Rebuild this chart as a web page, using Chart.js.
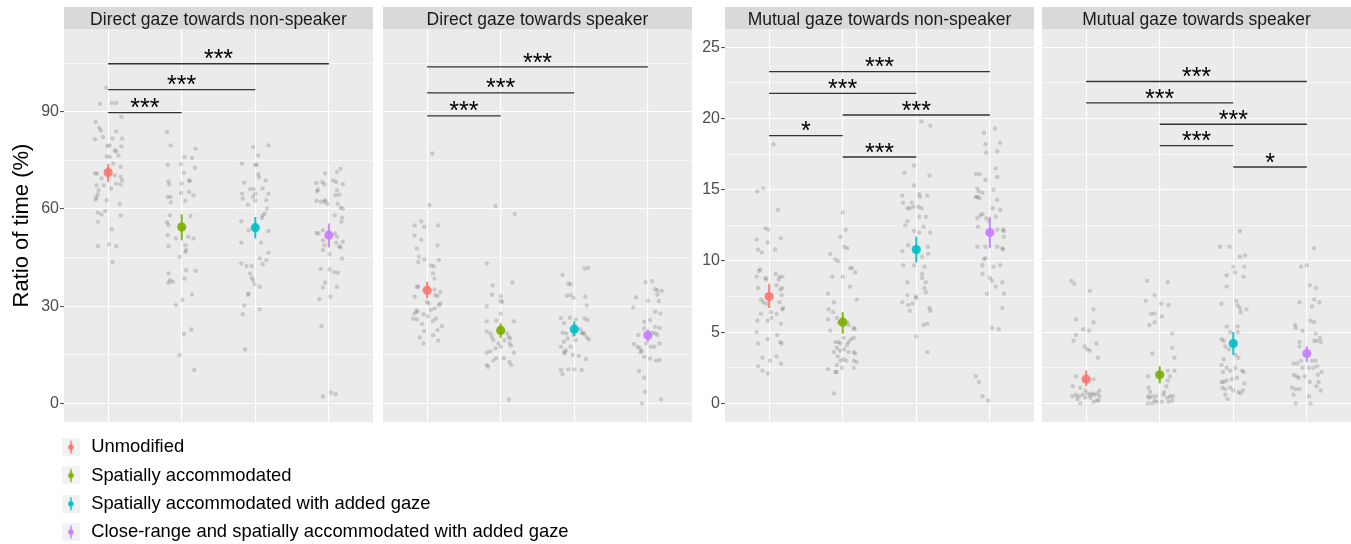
<!DOCTYPE html>
<html>
<head>
<meta charset="utf-8">
<script src="https://cdn.jsdelivr.net/npm/chart.js@4.4.0/dist/chart.umd.min.js"></script>
<style>
  html, body { margin: 0; padding: 0; background: #fff; overflow: hidden; width: 1351px; height: 544px; }
  canvas { position: absolute; top: 0; }
</style>
</head>
<body>
<canvas id="p1" width="373" height="422" style="left:0px"></canvas>
<canvas id="p2" width="309" height="422" style="left:383px"></canvas>
<canvas id="p3" width="373" height="422" style="left:661px"></canvas>
<canvas id="p4" width="309" height="422" style="left:1042px"></canvas>
<canvas id="legend" width="1200" height="140" style="left:50px;top:428px"></canvas>
<script>
// conditions, one colour each (ggplot default hues)
const conditions = ["Unmodified", "Spatially accommodated", "Spatially accommodated with added gaze",
  "Close-range and spatially accommodated with added gaze"];
const colors = ["rgba(248,118,109,0.9)", "rgba(124,174,0,0.9)", "rgba(0,191,196,0.9)", "rgba(199,124,255,0.9)"];
const categories = [1, 2, 3, 4];

// y ticks
const leftMajor = [0, 30, 60, 90];
const leftMinor = [15, 45, 75, 105];
const rightMajor = [0, 5, 10, 15, 20, 25];
const rightMinor = [2.5, 7.5, 12.5, 17.5, 22.5];

// participant points: [jitter, value]
const dirNonSpk1 = [[-0.03,97.4],[-0.11,92.4],[0.05,92.7],[0.11,92.7],[0.18,88.4],[-0.17,86.8],[-0.12,85],[-0.10,84.2],[-0.07,82.2],[-0.18,81.5],[0.11,83.9],[0.06,81.7],[0.19,81.7],[-0.01,79.4],[0.02,79.6],[0.18,79.3],[0.09,78],[0.11,77.8],[0.14,76.5],[-0.02,76.2],[0.02,76],[0.07,74],[0.17,73],[-0.18,70.9],[-0.15,70.9],[-0.09,69.4],[0.09,70.4],[0.17,69.9],[0.19,68.8],[-0.16,67.3],[0.11,67.8],[0.17,67.5],[0.04,66.3],[-0.13,65.8],[-0.14,64.5],[-0.06,67.3],[-0.17,62.9],[-0.16,63.5],[-0.02,62.7],[0.16,61.6],[-0.04,59.4],[-0.14,58.9],[-0.09,58.3],[0.17,58],[-0.14,56],[0.05,53.7],[-0.14,48.5],[0.01,49],[0.11,48.5],[0.06,43.6]];
const dirNonSpk2 = [[-0.20,83.8],[-0.15,79.6],[0.19,78.6],[0.04,76],[0.14,75.7],[-0.01,73.8],[-0.19,73.6],[0.18,72.7],[0.03,71.2],[-0.18,68.5],[-0.17,67.5],[0.10,68.8],[0.11,68.6],[0,67.8],[-0.19,63.7],[-0.15,63.7],[-0.01,64.9],[0.10,65.2],[0.16,64.2],[0.05,62.5],[-0.15,62],[-0.20,55.9],[-0.18,55],[-0.16,58],[0.12,57.8],[-0.19,51.9],[-0.08,50.9],[0.09,51.4],[0.16,50.9],[0.05,48.8],[-0.18,48.5],[0.06,47.3],[0.05,46.7],[-0.03,45.2],[0.06,41.1],[0.19,40.9],[-0.18,40.1],[-0.16,38],[-0.12,37.5],[-0.18,37.2],[0.04,38.5],[0.14,33.6],[0.01,31.9],[-0.08,30.3],[0.13,22.8],[0.03,21.4],[-0.03,14.9],[0.17,10.3]];
const dirNonSpk3 = [[-0.03,79.1],[0.18,79.6],[0.04,76.5],[-0.18,74],[0.02,73.7],[0,73.5],[0.04,70.7],[0.05,69.7],[-0.15,68.1],[0.14,68.8],[-0.07,66.1],[-0.02,66.1],[0,64.7],[-0.03,63.7],[-0.18,64.7],[-0.17,63.2],[0.18,64.7],[0.10,66.3],[0,62.5],[0.15,62.7],[0.16,60.1],[-0.10,61.3],[0.10,58],[0.13,58.6],[0.09,57.2],[-0.19,56.2],[-0.09,53.4],[0.18,53.2],[0.08,49.6],[-0.19,49.6],[0.18,46.5],[0.06,44.7],[0.15,44.2],[0.10,42.9],[-0.19,43.2],[-0.12,42.4],[-0.05,42.4],[-0.07,40.1],[-0.05,38.8],[-0.03,38],[-0.01,36.8],[0.06,36],[-0.09,33.9],[-0.10,33.5],[-0.15,30.2],[0.06,29],[-0.17,27.5],[-0.14,16.6]];
const dirNonSpk4 = [[0.16,72.4],[0.11,71.4],[-0.05,70.9],[0.06,68.8],[0.10,68.3],[-0.17,68],[-0.09,68.3],[-0.06,67.6],[0.19,67.6],[-0.15,66],[-0.16,65.4],[0.11,65.8],[0.14,64.4],[0.09,64.2],[-0.17,62.5],[-0.11,62.2],[-0.06,62.2],[-0.02,61.6],[-0.05,62.7],[0.12,61.6],[0.16,60.3],[0.19,60.1],[0.08,58],[0.18,57.3],[0.17,56],[-0.17,52.6],[-0.14,52.4],[-0.08,53.4],[0.08,52.4],[0.11,51.4],[-0.08,50.3],[0.10,49.6],[0.19,49.9],[0.14,48.5],[0.16,48.1],[-0.06,48.8],[-0.08,47.3],[0.01,46],[0.18,44.7],[-0.11,41.5],[0.01,41.3],[0.07,40.5],[0.12,40.3],[-0.05,37.3],[-0.08,35.8],[0.11,36],[0.02,32.9],[-0.13,32.1],[-0.10,23.8],[-0.08,2.1],[0.03,3.3],[0.09,2.8]];

const dirSpk1 = [[0.07,77.1],[0.03,61.2],[-0.17,54.9],[-0.08,56.2],[-0.04,54.5],[0.15,54.9],[-0.17,51.8],[-0.08,50.5],[0.14,48.7],[-0.14,47.8],[-0.11,45.2],[-0.04,44.4],[-0.12,43.6],[0.16,44.2],[0.05,42.5],[0.09,42.3],[0.08,40.1],[0.10,38.5],[-0.14,36],[-0.12,36],[0.18,34.3],[0.14,33.1],[0.10,35.1],[0.11,33.4],[-0.17,32.9],[0,31.3],[0.02,30.8],[0.18,30.8],[0.16,30.3],[-0.15,28.6],[-0.13,28.3],[-0.17,27.7],[0.05,28.8],[0.10,29.3],[-0.05,27.5],[0.01,26.9],[-0.19,26.2],[-0.14,25.9],[0.12,26.2],[0.08,25.4],[-0.07,24.5],[0.20,23.8],[-0.04,22.3],[0.14,22.6],[-0.10,20.3],[0.08,21],[-0.05,18.5],[0.15,19.3]];
const dirSpk2 = [[-0.07,60.8],[0.19,58.4],[-0.19,43.2],[0.16,37.3],[-0.11,36.4],[-0.12,33.5],[0,33.1],[0,31.6],[0.02,31.3],[-0.19,30],[0,27.7],[-0.19,25.3],[-0.06,25.5],[0.18,25.3],[-0.19,22.2],[-0.14,21.6],[0.09,21.6],[0.11,20.5],[-0.12,20.5],[-0.10,19.5],[-0.03,18.5],[0.05,19.5],[0.12,18.5],[0.13,20],[0.14,17.8],[-0.07,17],[0,17.5],[-0.14,16],[-0.19,15.6],[0.18,15.6],[-0.06,13.9],[-0.10,13.2],[0.04,13.9],[-0.19,11.8],[-0.17,11.3],[0.12,12.8],[0.14,11.8],[0.11,1.2]];
const dirSpk3 = [[0.14,41.6],[0.19,41.8],[-0.16,39.6],[-0.08,37],[-0.05,36.7],[-0.10,33.2],[-0.05,33.4],[0.15,32.9],[-0.01,32.6],[0.17,30.2],[-0.18,26.3],[-0.14,24.7],[0.02,25.9],[0.14,26.2],[0.18,25.7],[-0.06,26.4],[-0.16,21.8],[-0.11,21.6],[0.08,22.9],[0.10,21.6],[0.14,21.3],[0.12,21.9],[0.17,20.3],[0.20,19.7],[-0.01,21],[0.02,19.5],[-0.14,19],[-0.09,20],[-0.18,17.5],[-0.05,17.5],[-0.11,16.4],[-0.14,15.9],[-0.13,15.4],[-0.02,14.9],[0.06,14.7],[0.16,13.7],[-0.18,10.3],[-0.16,9],[-0.08,10.5],[0,10.5],[0.10,10.3]];
const dirSpk4 = [[-0.03,37.4],[0.06,37.7],[0.10,35.3],[0.13,34.9],[0.19,34.7],[0.13,33.6],[-0.16,32.7],[0,31.7],[0.15,31.6],[-0.20,29.6],[0.10,28.3],[0.17,27.7],[0.03,25.7],[-0.05,25.2],[0.10,23.6],[0.16,23.3],[0.06,21.8],[0.10,21.6],[0.13,21.1],[-0.05,23.1],[-0.13,21.1],[-0.19,18.3],[-0.14,17.5],[-0.11,17],[-0.08,16.2],[-0.10,15.8],[-0.02,18.5],[0.09,17.5],[0.16,18.5],[0.04,17.5],[-0.05,14.4],[0.03,13.8],[0.11,13.2],[0.16,13.4],[-0.12,10],[-0.05,7.9],[-0.04,3.6],[-0.08,0],[0.18,1.3]];

const mutNonSpk1 = [[0.06,18.2],[-0.16,14.9],[-0.08,15.1],[0.12,13.6],[-0.05,12.3],[-0.01,12.2],[-0.17,11.5],[0.16,11.6],[-0.02,11.3],[-0.15,10.8],[-0.10,10.6],[0.08,10.8],[-0.12,9.4],[-0.14,9.3],[-0.17,8.9],[-0.05,8.8],[-0.04,8.7],[0.09,9.1],[0.14,8.9],[0.18,8.9],[0.13,8.7],[0.10,8.3],[-0.15,8.1],[0.18,8.1],[0.15,8],[-0.11,7.3],[-0.08,7.1],[-0.04,7],[0.17,7.6],[0.14,7.1],[0.19,6.7],[0.18,6.6],[-0.11,6.3],[0.02,6.4],[0.10,6.3],[0.03,6],[-0.16,5.8],[-0.02,5.8],[0.16,5.6],[-0.17,5],[0.11,4.8],[-0.02,4.5],[0.15,4.3],[0.17,4.2],[-0.15,4.2],[-0.09,3.2],[0.10,3.3],[0.01,3],[0.16,2.8],[-0.15,2.6],[-0.09,2.3],[-0.02,2.1]];
const mutNonSpk2 = [[0,13.4],[0.04,12.2],[-0.03,11.7],[0.02,11],[0.06,10.9],[-0.17,10.5],[-0.10,10.1],[-0.06,10],[0.10,9.5],[0.13,9.5],[0.17,9.2],[-0.14,8.9],[0,8.9],[0.10,8.2],[-0.20,7.7],[-0.12,7.1],[0.19,7.3],[-0.19,6.6],[-0.13,6.4],[-0.08,6],[-0.05,5.7],[-0.20,5.9],[0.06,5.7],[0.08,5.5],[-0.17,5.1],[0.15,5.3],[0.16,5.2],[0.01,4.6],[0.11,4.5],[0.15,4.6],[-0.10,4.3],[-0.06,4.3],[-0.03,4.2],[0.08,4.3],[0.06,4.1],[-0.08,3.9],[-0.12,3.6],[-0.04,3.7],[0.02,3.8],[0.08,3.6],[0.15,3.6],[0.17,3.5],[-0.07,3.3],[-0.03,3],[0.01,3.1],[0.05,3],[0.15,3],[0.19,2.9],[-0.08,2.7],[-0.01,2.5],[-0.20,2.4],[0.15,2.5],[-0.10,2.2],[-0.08,2.2],[-0.12,0.7]];
const mutNonSpk3 = [[0.07,19.8],[0.19,19.5],[-0.03,16.7],[-0.16,16.2],[0.18,16],[-0.03,15.3],[-0.19,14.6],[0.04,14.7],[0.05,14.5],[0.15,14.6],[-0.18,14.1],[-0.06,14.1],[-0.04,13.8],[-0.12,13.7],[-0.09,13.7],[0.03,13.8],[0.07,13.7],[-0.12,12.8],[-0.15,12.5],[0.10,12.4],[-0.03,12.1],[0.04,12],[0.19,12],[0.04,13.1],[0.13,13.1],[-0.19,10.7],[-0.11,11.1],[0.16,11],[0.16,10.5],[0.08,10.3],[-0.18,9.7],[-0.03,9.7],[0.11,9.6],[0.08,9.1],[0.08,8.8],[-0.12,8.5],[0.13,8.5],[0.11,8.1],[0.13,7.8],[-0.12,7.6],[-0.01,7.5],[0,7.4],[-0.19,7.1],[-0.11,6.9],[-0.05,7],[0.18,6.7],[0.19,6.5],[-0.09,6.5],[0.10,5.5],[0.15,5.6],[0,4.7],[0.15,3.6]];
const mutNonSpk4 = [[0.07,19.3],[-0.08,19],[0.14,18.3],[-0.06,18.2],[0.10,17.7],[-0.05,17.6],[-0.19,16.1],[-0.14,16.1],[0.08,16.5],[0.10,15.9],[-0.06,15.7],[0.05,15],[-0.17,15.1],[-0.15,14.9],[-0.10,14.8],[-0.17,14.5],[-0.14,14.4],[-0.19,14.5],[0.10,14.3],[0.04,13.7],[-0.10,13.3],[-0.13,13.2],[0.14,13.6],[-0.17,13],[-0.05,13],[-0.01,12.8],[0.08,13.1],[0.10,12.2],[0.18,12.2],[0.19,12.1],[-0.16,12.4],[0.19,11.7],[-0.17,11],[-0.06,11],[0.10,11],[0.17,10.9],[0.18,10.8],[-0.06,10.2],[-0.08,10.1],[0.05,9.6],[-0.10,9.7],[0.14,9.7],[-0.10,9.1],[0,8.8],[0.03,8.6],[0.17,8.5],[0.08,8.2],[-0.04,7.7],[0.19,7.7],[0.17,6.7],[0.03,5.3],[0.12,5.2],[-0.19,1.9],[-0.15,1.5],[-0.10,0.5],[-0.02,0.2]];

const mutSpk1 = [[-0.20,8.6],[-0.16,8.4],[0.05,7.9],[0.10,6.6],[-0.14,5.9],[0.10,5.7],[-0.04,5.2],[0.04,5.1],[-0.14,4.8],[-0.17,4.4],[0.14,4.2],[-0.02,4],[0.01,3.8],[0.05,3.7],[0.16,3.2],[-0.14,1.9],[0.10,1.7],[-0.18,1.2],[-0.08,1.1],[-0.01,0.9],[0.18,0.9],[-0.19,0.5],[-0.14,0.6],[-0.10,0.5],[-0.05,0.6],[0.01,0.7],[0.05,0.6],[0.08,0.7],[0.11,0.6],[0.15,0.7],[0.18,0.5],[-0.12,0.3],[-0.08,0],[-0.01,0.4],[0.10,0.1],[0.14,0.2],[0.17,0.2],[0.06,0.4]];
const mutSpk2 = [[-0.17,8.6],[0.11,8.5],[-0.07,7.6],[-0.19,7.2],[0.02,7],[0.12,6.9],[-0.12,6.3],[-0.07,6.3],[0.03,6.1],[-0.07,5.7],[-0.14,5.5],[0.17,4.9],[0.17,3.9],[-0.10,3.5],[0.20,3.2],[0.11,2.3],[0.20,2.3],[-0.16,1.9],[0.11,1.6],[0.14,1.9],[-0.15,1.1],[-0.13,0.8],[0.09,1.2],[0.06,0.8],[-0.16,0.5],[-0.14,0.4],[-0.10,0.5],[-0.07,0.2],[-0.05,0.5],[-0.16,0],[0.05,0.6],[0.10,0.4],[0.14,0.5],[0.18,0.5],[0.12,0.1],[0.03,0.1],[0.17,0.2],[-0.04,0.1],[-0.10,0]];
const mutSpk3 = [[0.09,12.1],[-0.18,11],[-0.05,11],[0.16,10.4],[0.09,10.3],[0,9.6],[0.15,9.6],[-0.09,9],[0.02,9.2],[0.14,8.9],[-0.09,8.2],[-0.16,7],[0.04,7.2],[0.06,6.9],[0.09,6.7],[0.10,6.4],[0.18,6.6],[-0.09,5.4],[0.06,5.4],[0.06,5],[-0.04,5],[-0.16,4.5],[-0.13,4.4],[-0.11,4],[-0.06,3.8],[0.03,3.4],[0.07,3.2],[-0.13,3.1],[-0.16,2.7],[-0.09,2.5],[-0.04,2.3],[0.03,2.5],[0.12,2.3],[0.14,2.2],[-0.14,2.2],[-0.16,1.5],[-0.13,1.5],[-0.09,1.6],[-0.02,1.7],[0.05,1.8],[0.15,1.4],[-0.15,1.1],[-0.11,1],[-0.04,1.1],[0,0.9],[0.10,0.7],[0.07,0.8],[0.13,0.9],[-0.11,0.6],[-0.08,0.3]];
const mutSpk4 = [[0.10,10.9],[-0.08,9.6],[0,9.7],[0.04,8.3],[0.12,8.1],[-0.10,7.1],[0.10,7.3],[0.17,7.1],[0.07,6.8],[-0.16,5.5],[-0.15,5.3],[0.05,5.8],[0.10,5.7],[-0.06,5.1],[0.12,4.9],[0.18,4.6],[0.14,4.4],[0.10,4.4],[0.19,4.3],[-0.10,4.3],[-0.10,4],[-0.08,3],[-0.13,2.8],[-0.18,2.8],[0.07,3],[0.12,3],[0.03,2.5],[0.09,2.5],[0.14,2.6],[-0.06,2.5],[-0.03,1.9],[-0.18,2],[-0.14,1.9],[-0.11,1.8],[0.20,2.2],[0.15,2],[0.04,1.5],[0.16,1.5],[0.13,1.2],[-0.20,1.1],[-0.15,1],[-0.10,1],[0.19,0.9],[-0.18,0.6],[0.03,0.5],[-0.15,0],[0.05,0]];

// means and confidence intervals
const dirNonSpkMean = [71.2, 54.4, 54.2, 51.9];
const dirNonSpkLo = [68.3, 50.3, 50.9, 48.1];
const dirNonSpkHi = [73.8, 58.3, 57.5, 55.5];
const dirSpkMean = [34.9, 22.5, 22.9, 21.0];
const dirSpkLo = [32.4, 20.2, 20.8, 19.0];
const dirSpkHi = [37.5, 24.7, 25.2, 22.8];
const mutNonSpkMean = [7.5, 5.7, 10.8, 12.0];
const mutNonSpkLo = [6.7, 4.9, 9.9, 10.9];
const mutNonSpkHi = [8.4, 6.4, 11.7, 13.1];
const mutSpkMean = [1.7, 2.0, 4.2, 3.5];
const mutSpkLo = [1.2, 1.4, 3.4, 2.9];
const mutSpkHi = [2.3, 2.6, 5.0, 4.0];

// significance brackets: [from, to, y, label]
const dirNonSpkSig = [[1, 2, 89.7, "***"], [1, 3, 96.8, "***"], [1, 4, 104.8, "***"]];
const dirSpkSig = [[1, 2, 88.7, "***"], [1, 3, 95.8, "***"], [1, 4, 103.8, "***"]];
const mutNonSpkSig = [[1, 2, 18.8, "*"], [2, 3, 17.3, "***"], [2, 4, 20.25, "***"], [1, 3, 21.77, "***"], [1, 4, 23.3, "***"]];
const mutSpkSig = [[3, 4, 16.6, "*"], [2, 3, 18.1, "***"], [2, 4, 19.6, "***"], [1, 3, 21.1, "***"], [1, 4, 22.6, "***"]];

const FONT = '"Liberation Sans", Arial, Helvetica, sans-serif';
Chart.defaults.font.family = FONT;

// panel background, facet strip, significance stars
const panelDeco = {
  id: "panelDeco",
  beforeDraw(chart, args, opts) {
    const { ctx, chartArea: a } = chart;
    ctx.save();
    ctx.fillStyle = "#ebebeb";
    ctx.fillRect(a.left, a.top, a.right - a.left, a.bottom - a.top);
    ctx.fillStyle = "#d9d9d9";
    ctx.fillRect(a.left, a.top - 22, a.right - a.left, 22);
    ctx.fillStyle = "#1a1a1a";
    ctx.font = "17.5px " + FONT;
    ctx.textAlign = "center";
    ctx.textBaseline = "alphabetic";
    ctx.fillText(opts.title, (a.left + a.right) / 2, a.top - 4.2);
    ctx.restore();
  },
  afterDatasetsDraw(chart, args, opts) {
    const { ctx, scales } = chart;
    ctx.save();
    ctx.fillStyle = "#000";
    ctx.font = "25px " + FONT;
    ctx.textAlign = "center";
    ctx.textBaseline = "alphabetic";
    opts.sig.forEach((s) => {
      const x = scales.x.getPixelForValue((s[0] + s[1]) / 2);
      const y = scales.y.getPixelForValue(s[2]);
      ctx.fillText(s[3], x, y + 3.6);
    });
    ctx.restore();
  },
};

function makePanel(id, title, groups, means, lows, highs, sig, yMin, yMax, majors, minors, showAxis, yTitle) {
  const allTicks = majors.concat(minors).sort((a, b) => a - b);
  const isMajor = (c) => c.tick && majors.includes(c.tick.value);
  const datasets = [];
  sig.forEach((s) => {
    datasets.push({ data: [{ x: s[0], y: s[2] }, { x: s[1], y: s[2] }], showLine: true,
      borderColor: "#333", borderWidth: 1.4, pointRadius: 0, order: 0 });
  });
  datasets.push({ data: means.map((m, i) => ({ x: categories[i], y: m })), pointBackgroundColor: colors,
    pointBorderWidth: 0, pointRadius: 4.6, order: 1 });
  means.forEach((m, i) => {
    datasets.push({ data: [{ x: categories[i], y: lows[i] }, { x: categories[i], y: highs[i] }], showLine: true,
      borderColor: colors[i], borderWidth: 2, pointRadius: 0, order: 2 });
  });
  groups.forEach((g, i) => {
    datasets.push({ data: g.map((p) => ({ x: categories[i] + p[0], y: p[1] })),
      pointBackgroundColor: "rgba(0,0,0,0.15)", pointBorderWidth: 0, pointRadius: 2.2, order: 3 });
  });

  return new Chart(document.getElementById(id), {
    type: "scatter",
    data: { datasets: datasets },
    plugins: [panelDeco],
    options: {
      responsive: false,
      animation: false,
      events: [],
      layout: { autoPadding: false, padding: { top: 29, left: 0, right: 0, bottom: 0 } },
      scales: {
        x: {
          type: "linear", min: 0.4, max: 4.6,
          afterBuildTicks: (ax) => { ax.ticks = categories.map((v) => ({ value: v })); },
          afterFit: (ax) => { ax.height = 0; ax.paddingLeft = 0; ax.paddingRight = 0; },
          grid: { color: "#fff", lineWidth: 1.1, drawTicks: false, tickLength: 0 },
          border: { display: false },
          ticks: { display: false },
        },
        y: {
          type: "linear", min: yMin, max: yMax,
          afterBuildTicks: (ax) => { ax.ticks = allTicks.map((v) => ({ value: v })); },
          afterFit: (ax) => { ax.width = showAxis ? 64 : 0; ax.paddingTop = 0; ax.paddingBottom = 0; },
          grid: {
            color: "#fff",
            lineWidth: (c) => (isMajor(c) ? 1.1 : 0.55),
            tickColor: (c) => (isMajor(c) && showAxis ? "#555" : "rgba(0,0,0,0)"),
            drawTicks: showAxis,
            tickLength: showAxis ? 4 : 0,
          },
          border: { display: false },
          ticks: {
            display: showAxis, autoSkip: false, color: "#4d4d4d", font: { size: 16 }, padding: 1,
            callback: (v) => (majors.includes(v) ? String(v) : ""),
          },
          title: { display: !!yTitle, text: yTitle || "", color: "#000", font: { size: 22 },
            padding: { top: 9, bottom: 0 } },
        },
      },
      plugins: {
        legend: { display: false },
        tooltip: { enabled: false },
        panelDeco: { title: title, sig: sig },
      },
    },
  });
}

makePanel("p1", "Direct gaze towards non-speaker", [dirNonSpk1, dirNonSpk2, dirNonSpk3, dirNonSpk4],
  dirNonSpkMean, dirNonSpkLo, dirNonSpkHi, dirNonSpkSig, -5.75, 115.5, leftMajor, leftMinor, true, "Ratio of time (%)");
makePanel("p2", "Direct gaze towards speaker", [dirSpk1, dirSpk2, dirSpk3, dirSpk4],
  dirSpkMean, dirSpkLo, dirSpkHi, dirSpkSig, -5.75, 115.5, leftMajor, leftMinor, false, null);
makePanel("p3", "Mutual gaze towards non-speaker", [mutNonSpk1, mutNonSpk2, mutNonSpk3, mutNonSpk4],
  mutNonSpkMean, mutNonSpkLo, mutNonSpkHi, mutNonSpkSig, -1.31, 26.29, rightMajor, rightMinor, true, null);
makePanel("p4", "Mutual gaze towards speaker", [mutSpk1, mutSpk2, mutSpk3, mutSpk4],
  mutSpkMean, mutSpkLo, mutSpkHi, mutSpkSig, -1.31, 26.29, rightMajor, rightMinor, false, null);

// legend keys: grey square with point + range
const keyImgs = colors.map((c) => {
  const k = document.createElement("canvas");
  k.width = 18; k.height = 18;
  const g = k.getContext("2d");
  g.fillStyle = "#f2f2f2";
  g.fillRect(0, 0, 18, 18);
  g.strokeStyle = c;
  g.lineWidth = 1.6;
  g.beginPath(); g.moveTo(9, 2.5); g.lineTo(9, 15.5); g.stroke();
  g.fillStyle = c;
  g.beginPath(); g.arc(9, 9, 2.8, 0, Math.PI * 2); g.fill();
  return k;
});

new Chart(document.getElementById("legend"), {
  type: "scatter",
  data: { datasets: conditions.map((c, i) => ({ label: c, data: [], backgroundColor: colors[i] })) },
  options: {
    responsive: false,
    animation: false,
    events: [],
    scales: { x: { display: false }, y: { display: false } },
    plugins: {
      tooltip: { enabled: false },
      legend: {
        position: "left",
        align: "start",
        labels: {
          usePointStyle: true, pointStyleWidth: 22, padding: 9.93, color: "#1a1a1a", font: { size: 18.4 },
          generateLabels: (ch) => ch.data.datasets.map((d, i) => ({
            text: d.label, pointStyle: keyImgs[i], fillStyle: d.backgroundColor,
            strokeStyle: "rgba(0,0,0,0)", lineWidth: 0, hidden: false, datasetIndex: i,
          })),
        },
      },
    },
  },
});
</script>
</body>
</html>
